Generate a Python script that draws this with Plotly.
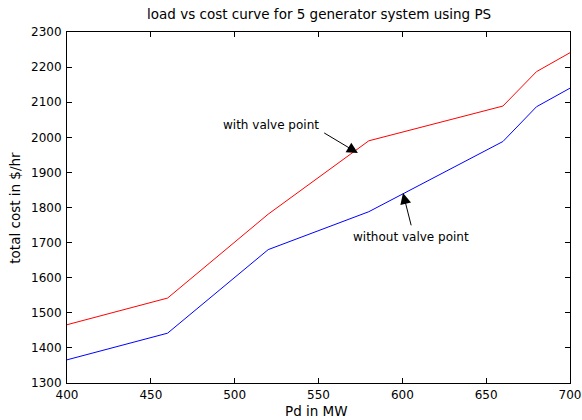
import plotly.graph_objects as go

pd_mw = [400, 460, 520, 580, 660, 680, 700]
cost_with_valve = [1466, 1542, 1781, 1990, 2089, 2187, 2241]
cost_without_valve = [1366, 1442, 1680, 1788, 1988, 2087, 2140]
x_ticks = [400, 450, 500, 550, 600, 650, 700]
y_ticks = list(range(1300, 2301, 100))

fig = go.Figure()
fig.add_trace(go.Scatter(x=pd_mw, y=cost_with_valve, mode="lines",
                         line=dict(color="#ff0000", width=1), showlegend=False))
fig.add_trace(go.Scatter(x=pd_mw, y=cost_without_valve, mode="lines",
                         line=dict(color="#0000ff", width=1), showlegend=False))

fam = "DejaVu Sans, Arial, sans-serif"
font = dict(family=fam, size=12, color="black")
font_big = dict(family=fam, size=13.5, color="black")

# arrows (tail -> tip)
fig.add_annotation(x=573.5, y=1955, ax=552.5, ay=2015, axref="x", ayref="y",
                   xref="x", yref="y", text="", showarrow=True,
                   arrowhead=2, arrowsize=2.2, arrowwidth=1, arrowcolor="black")
fig.add_annotation(x=600.4, y=1841, ax=605.5, ay=1745, axref="x", ayref="y",
                   xref="x", yref="y", text="", showarrow=True,
                   arrowhead=2, arrowsize=2.2, arrowwidth=1, arrowcolor="black")
fig.add_annotation(x=521.6, y=2035, xref="x", yref="y", text="with valve point",
                   showarrow=False, font=font)
fig.add_annotation(x=605, y=1715, xref="x", yref="y", text="without valve point",
                   showarrow=False, font=font)

# titles
fig.add_annotation(x=0.5, y=1.051, xref="paper", yref="paper", yanchor="middle",
                   text="load vs cost curve for 5 generator system using PS",
                   showarrow=False, font=font_big)
fig.add_annotation(x=0.497, y=-0.08, xref="paper", yref="paper", yanchor="middle",
                   text="Pd in MW", showarrow=False, font=font_big)
fig.add_annotation(x=-0.105, y=0.5, xref="paper", yref="paper", xanchor="center",
                   yanchor="middle", textangle=-90,
                   text="total cost in $/hr", showarrow=False, font=font_big)

axis_common = dict(showgrid=False, zeroline=False, showline=True, linecolor="black",
                   linewidth=1, mirror="ticks", ticks="inside", ticklen=5,
                   tickcolor="black", tickfont=font, automargin=False)
fig.update_xaxes(range=[400, 700], tickvals=x_ticks, ticklabelstandoff=1, **axis_common)
fig.update_yaxes(range=[1300, 2300], tickvals=y_ticks, ticklabelstandoff=2, **axis_common)

fig.update_layout(
    width=582, height=420,
    margin=dict(l=67, r=12, t=32, b=37),
    plot_bgcolor="white", paper_bgcolor="white",
    font=font,
)

fig.write_html("out.html", config={"displayModeBar": False},
               post_script="document.body.style.margin='0';document.body.style.overflow='hidden';")
